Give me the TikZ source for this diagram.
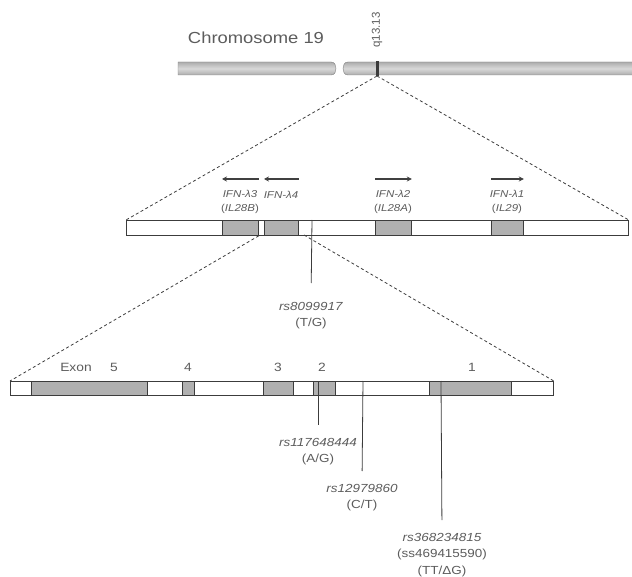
\documentclass[tikz,border=0pt]{standalone}
\usepackage{fontspec}
\setmainfont{Liberation Sans}[FakeStretch=1.15]
\newfontfamily\bandfont{Liberation Sans}
\usetikzlibrary{arrows.meta}

\definecolor{ink}{HTML}{3C3C3C}
\definecolor{txt}{HTML}{5C5C5C}
\definecolor{exfill}{HTML}{B0B0B0}
\definecolor{chromline}{HTML}{7E7E7E}

\tikzset{
  bar/.style={draw=ink, fill=white, line width=0.8pt, inner sep=0pt, anchor=north west},
  exon/.style={draw=ink, fill=exfill, line width=0.8pt, inner sep=0pt, anchor=north west},
  gene/.style={text=txt, align=center, font=\fontsize{10}{13.5}\selectfont},
  snp/.style={text=txt, align=center, anchor=north, inner sep=1pt, font=\fontsize{11.7}{16.5}\selectfont},
  lbl/.style={text=txt, font=\fontsize{12}{14}\selectfont},
  zoomline/.style={draw=ink, dash pattern=on 3pt off 2.5pt, line width=0.8pt},
  snpline/.style={draw=ink, line width=0.8pt, shorten >=12pt},
  strand/.style={line width=1.6pt, draw=black!75, -{Stealth[length=5pt,width=5pt]}}
}

\begin{document}
\begin{tikzpicture}[x=1pt,y=-1pt]
    \useasboundingbox (0,0) rectangle (632,577);

    % chromosome
    \shadedraw[top color=gray!65, bottom color=gray!65, middle color=gray!30, draw=chromline]
        (178,62) -- (331,62) .. controls (335,62) and (336,66) .. (336,68.5)
        .. controls (336,71) and (335,75) .. (331,75) -- (178,75) -- cycle;
    \shadedraw[top color=gray!65, bottom color=gray!65, middle color=gray!30, draw=chromline]
        (640,62) -- (348,62) .. controls (344,62) and (343,66) .. (343,68.5)
        .. controls (343,71) and (344,75) .. (348,75) -- (640,75) -- cycle;
    \fill[ink] (375.5,61) rectangle (378.5,76);
    \coordinate (band) at (377,76);
    \node[text=txt, font=\fontsize{16}{18}\selectfont] (chr) at (256,38) {Chromosome 19};
    \node[rotate=90, text=txt, font=\bandfont\fontsize{11.5}{12}\selectfont] (qband) at (377,30) {q13.13};

    % IFN-lambda locus
    \node[bar, minimum width=502pt, minimum height=15pt] (locus) at (126,220) {};
    \foreach \name/\x/\w in {l3/222/36, l4/264/34, l2/375/36, l1/491/32}
        \node[exon, minimum width=\w pt, minimum height=15pt] (\name) at (\x,220) {};

    \draw[strand] ([yshift=41pt]l3.north east) -- ([yshift=41pt]l3.north west);
    \draw[strand] ([yshift=41pt]l4.north east) -- ([yshift=41pt]l4.north west);
    \draw[strand] ([yshift=41pt]l2.north west) -- ([yshift=41pt]l2.north east);
    \draw[strand] ([yshift=41pt]l1.north west) -- ([yshift=41pt]l1.north east);

    \node[gene] (t3) at (240,202) {\textit{IFN-λ3}\\(\textit{IL28B})};
    \node[gene] (t4) at (281,195) {\textit{IFN-λ4}};
    \node[gene] (t2) at (393,202) {\textit{IFN-λ2}\\(\textit{IL28A})};
    \node[gene] (t1) at (507,202) {\textit{IFN-λ1}\\(\textit{IL29})};

    \draw[zoomline] (band) -- (locus.north west);
    \draw[zoomline] (band) -- (locus.north east);

    % IFNL4 gene
    \node[bar, minimum width=543pt, minimum height=14pt] (exons) at (10,381) {};
    \foreach \name/\x/\w in {e5/31/116, e4/182/12, e3/263/30, e2/313/22, e1/429/82}
        \node[exon, minimum width=\w pt, minimum height=14pt] (\name) at (\x,381) {};

    \node[lbl] (exlab) at (76,367) {Exon};
    \node[lbl] (n5) at (114,367) {5};
    \node[lbl] (n4) at (188,367) {4};
    \node[lbl] (n3) at (278,367) {3};
    \node[lbl] (n2) at (322,367) {2};
    \node[lbl] (n1) at (472,367) {1};

    \coordinate (cut) at (304,235);
    \draw[zoomline] (l3.south east) -- (exons.north west);
    \draw[zoomline] (cut) -- (exons.north east);

    % SNPs
    \coordinate (s0) at (312,220);
    \coordinate (s1) at (318,381);
    \coordinate (s2) at (363,381);
    \coordinate (s3) at (441,381);
    \node[snp] (r0) at (311,301) {\textit{rs8099917}\\(T/G)};
    \node[snp] (r1) at (318,437) {\textit{rs117648444}\\(A/G)};
    \node[snp] (r2) at (362,483) {\textit{rs12979860}\\(C/T)};
    \node[snp] (r3) at (442,532) {\textit{rs368234815}\\(ss469415590)\\(TT/ΔG)};
    \draw[snpline, shorten >=18pt] (s0) -- (r0.north);
    \draw[snpline] (s1) -- (r1.north);
    \draw[snpline] (s2) -- (r2.north);
    \draw[snpline] (s3) -- (r3.north);
\end{tikzpicture}
\end{document}
